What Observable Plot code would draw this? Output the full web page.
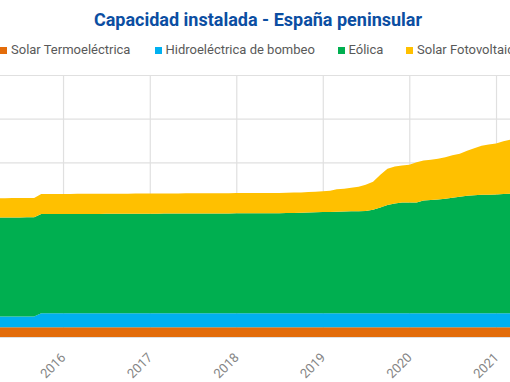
<!DOCTYPE html>
<html><head><meta charset="utf-8">
<script src="https://cdn.jsdelivr.net/npm/d3@7"></script>
<script src="https://cdn.jsdelivr.net/npm/@observablehq/plot@0.6"></script>
<style>
html,body{margin:0;padding:0;background:#fff;}
body{width:510px;height:382px;overflow:hidden;position:relative;font-family:Roboto,sans-serif;}
#title{height:38px;box-sizing:border-box;padding-top:9px;line-height:21px;font-size:18px;font-weight:bold;color:#0B4EA2;text-align:center;white-space:nowrap;padding-left:6px;}
#legend{position:relative;height:26px;font-size:13px;color:#595959;white-space:nowrap;}
.item{position:absolute;top:4px;height:16px;line-height:16px;display:flex;align-items:center;}
.sw{display:inline-block;width:7px;height:7px;margin-right:4px;}
#chart svg{display:block;}
</style></head><body>
<div id="title">Capacidad instalada - España peninsular</div>
<div id="legend"></div>
<div id="chart"></div>
<script>
const series = ["Solar Termoeléctrica", "Hidroeléctrica de bombeo", "Eólica", "Solar Fotovoltaica"];
const colors = ["#E36C0A", "#00B0F0", "#00AF50", "#FFC000"];
const tickYears = [2016, 2017, 2018, 2019, 2020, 2021];
const gridValues = [0, 10000, 20000, 30000, 40000, 50000, 60000];

// monthly values (MW), Jan 2015 .. Mar 2021
const termosolar = [
  2250,2250,2250,2250,2250,2250,2250,2250,2250,2250,2250,2250,
  2250,2250,2250,2250,2250,2250,2250,2250,2250,2250,2250,2250,
  2250,2250,2250,2250,2250,2250,2250,2250,2250,2250,2250,2250,
  2250,2250,2250,2250,2250,2250,2250,2250,2250,2250,2250,2250,
  2250,2250,2250,2250,2250,2250,2250,2250,2250,2250,2250,2250,
  2250,2250,2250,2250,2250,2250,2250,2250,2250,2250,2250,2250,
  2250,2250,2250
];
const bombeo = [
  2450,2450,2450,2450,2450,2450,2450,2450,2450,3200,3200,3200,
  3200,3200,3200,3200,3200,3200,3200,3200,3200,3200,3200,3200,
  3200,3200,3200,3200,3200,3200,3200,3200,3200,3200,3200,3200,
  3200,3200,3200,3200,3200,3200,3200,3200,3200,3200,3200,3200,
  3200,3200,3200,3200,3200,3200,3200,3200,3200,3200,3200,3200,
  3200,3200,3200,3200,3200,3200,3200,3200,3200,3200,3200,3200,
  3200,3200,3200
];
const eolica = [
  22680,22680,22685,22690,22690,22695,22695,22700,22700,
  22700,22705,22710,22720,22720,22730,22735,22740,22745,22750,
  22760,22765,22770,22780,22785,22790,22800,22805,22810,22815,
  22820,22830,22835,22840,22850,22855,22860,22865,22870,22875,
  22880,22885,22890,22900,
  22940,22965,23010,23055,23100,23150,23190,23240,23285,23330,
  23375,23420,23700,24220,24800,25140,25330,25330,25370,25790,
  25900,26060,26220,26450,26660,26870,27030,27100,27140,27210,
  27280,27330
];
const fotovoltaica = [
  4390,4395,4400,4400,4405,4410,4410,4415,4420,
  4580,4585,4590,4590,4595,4600,4600,4600,4605,4605,
  4610,4610,4610,4615,4615,4615,4620,4620,4620,4620,
  4625,4625,4625,4630,4630,4630,4630,4635,4635,4635,
  4640,4640,4640,4645,
  4650,4655,4660,4680,4720,4790,4860,5120,5235,5375,
  5560,5970,6385,7465,8270,8455,8475,8660,9190,9190,
  9235,9300,9485,9715,9855,10335,10750,11255,11485,11670,
  12105,12400
];

const months = d3.utcMonth.range(new Date(Date.UTC(2015, 0, 1)), new Date(Date.UTC(2021, 3, 1)));
const valuesBySerie = [termosolar, bombeo, eolica, fotovoltaica];
const rows = [];
series.forEach((s, j) => {
  months.forEach((d, i) => rows.push({date: d, serie: s, value: valuesBySerie[j][i]}));
});

// legend
const legendX = [0, 154.5, 337.5, 406];
const legend = document.getElementById("legend");
series.forEach((s, j) => {
  const it = document.createElement("div");
  it.className = "item";
  it.style.left = legendX[j] + "px";
  it.innerHTML = `<span class="sw" style="background:${colors[j]}"></span><span>${s}</span>`;
  legend.appendChild(it);
});

const yearDates = tickYears.map(y => new Date(Date.UTC(y, 0, 1)));

const chart = Plot.plot({
  width: 510,
  height: 318,
  marginTop: 11,
  marginBottom: 45,
  marginLeft: 0,
  marginRight: 0,
  style: {fontFamily: "Roboto, sans-serif", fontSize: "13px", background: "#fff"},
  x: {type: "utc", domain: [new Date(Date.UTC(2015, 3, 10)), new Date(Date.UTC(2021, 2, 1))]},
  y: {domain: [0, 60000], axis: null},
  color: {domain: series, range: colors},
  marks: [
    Plot.gridY(gridValues, {stroke: "#e0e0e0", strokeOpacity: 1, strokeWidth: 1.2}),
    Plot.gridX(yearDates, {stroke: "#e0e0e0", strokeOpacity: 1, strokeWidth: 1.2}),
    Plot.areaY(rows, {x: "date", y: "value", z: "serie", fill: "serie", order: series, clip: true}),
    Plot.axisX(yearDates, {tickSize: 0, tickRotate: -45, tickPadding: 18, tickFormat: d3.utcFormat("%Y"), color: "#858585", fontSize: 13})
  ]
});
document.getElementById("chart").appendChild(chart);
</script>
</body></html>
